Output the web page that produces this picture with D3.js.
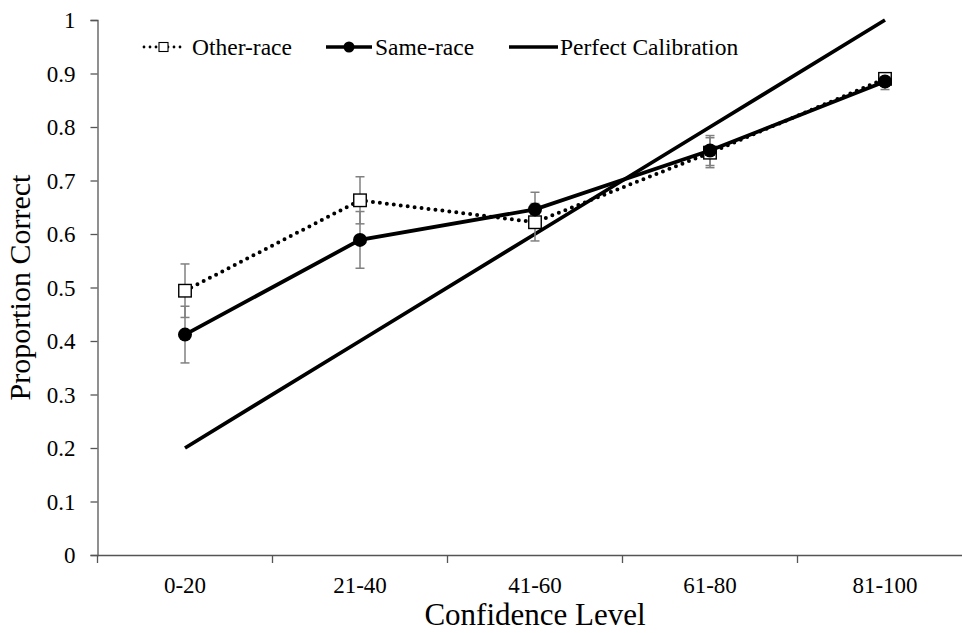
<!DOCTYPE html>
<html>
<head>
<meta charset="utf-8">
<script src="https://cdn.jsdelivr.net/npm/d3@7"></script>
<style>
  body { margin: 0; background: #fff; }
  text { font-family: "Liberation Serif", "Times New Roman", serif; fill: #000; }
</style>
</head>
<body>
<div id="chart"></div>
<script>
  const categories = ["0-20", "21-40", "41-60", "61-80", "81-100"];
  const otherRace = [0.494, 0.663, 0.622, 0.752, 0.890];
  const otherErr = [0.050, 0.044, 0.035, 0.028, 0.010];
  const sameRace = [0.412, 0.589, 0.646, 0.756, 0.885];
  const sameErr = [0.053, 0.053, 0.032, 0.028, 0.015];
  const perfect = [0.2, 0.4, 0.6, 0.8, 1.0];
  const yTicks = [0, 0.1, 0.2, 0.3, 0.4, 0.5, 0.6, 0.7, 0.8, 0.9, 1];

  const width = 962;
  const height = 633;
  const margin = {top: 20, left: 97.5, bottom: 78};
  const plotW = 875;

  const svg = d3.select("#chart")
    .append("svg")
    .attr("width", width)
    .attr("height", height);

  const x = d3.scaleBand()
    .domain(categories)
    .range([margin.left, margin.left + plotW]);

  const y = d3.scaleLinear()
    .domain([0, 1])
    .range([height - margin.bottom, margin.top]);

  const cx = c => x(c) + x.bandwidth() / 2;

  // axes
  const yAxis = svg.append("g")
    .attr("transform", `translate(${margin.left},0)`)
    .call(d3.axisLeft(y).tickValues(yTicks)
      .tickFormat(d => d === 0 ? "0" : d === 1 ? "1" : d.toFixed(1))
      .tickSize(7).tickPadding(15));

  const xAxis = svg.append("g")
    .attr("transform", `translate(0,${y(0)})`)
    .call(d3.axisBottom(x).tickSize(0).tickPadding(21));

  // category boundary ticks
  const bounds = categories.map(c => x(c)).concat([x(categories[categories.length - 1]) + x.bandwidth()]);
  xAxis.selectAll("line.bound")
    .data(bounds)
    .join("line")
    .attr("class", "bound")
    .attr("x1", d => d).attr("x2", d => d)
    .attr("y1", 0).attr("y2", 8);

  [yAxis, xAxis].forEach(ax => {
    ax.attr("font-family", null);
    ax.select(".domain").attr("stroke", "#555").attr("stroke-width", 1.3);
    ax.selectAll("line").attr("stroke", "#555").attr("stroke-width", 1.3);
    ax.selectAll("text")
      .style("font-family", "'Liberation Serif', 'Times New Roman', serif")
      .style("font-size", "23px")
      .attr("fill", "#000");
  });
  yAxis.selectAll("text").attr("dy", "0.34em");
  xAxis.selectAll("text").attr("dy", "0.75em");

  // axis titles
  svg.append("text")
    .attr("x", x(categories[2]) + x.bandwidth() / 2)
    .attr("y", 625)
    .attr("text-anchor", "middle")
    .style("font-size", "31px")
    .text("Confidence Level");

  svg.append("text")
    .attr("transform", `translate(30,${(y(0) + y(1)) / 2}) rotate(-90)`)
    .attr("text-anchor", "middle")
    .style("font-size", "30px")
    .text("Proportion Correct");

  const line = d3.line()
    .x((d, i) => cx(categories[i]))
    .y(d => y(d));

  // perfect calibration
  svg.append("path")
    .datum(perfect)
    .attr("d", line)
    .attr("fill", "none")
    .attr("stroke", "#000")
    .attr("stroke-width", 3.8);

  // other-race dotted
  svg.append("path")
    .datum(otherRace)
    .attr("d", line)
    .attr("fill", "none")
    .attr("stroke", "#000")
    .attr("stroke-width", 4)
    .attr("stroke-linecap", "round")
    .attr("stroke-dasharray", "0 7");

  // same-race solid
  svg.append("path")
    .datum(sameRace)
    .attr("d", line)
    .attr("fill", "none")
    .attr("stroke", "#000")
    .attr("stroke-width", 3.8);

  // error bars
  function errorBars(vals, errs) {
    const g = svg.append("g").attr("stroke", "#808080").attr("stroke-width", 1.5);
    const cw = 4.5;
    vals.forEach((v, i) => {
      const px = cx(categories[i]);
      g.append("line").attr("x1", px).attr("x2", px)
        .attr("y1", y(v - errs[i])).attr("y2", y(v + errs[i]));
      g.append("line").attr("x1", px - cw).attr("x2", px + cw)
        .attr("y1", y(v - errs[i])).attr("y2", y(v - errs[i]));
      g.append("line").attr("x1", px - cw).attr("x2", px + cw)
        .attr("y1", y(v + errs[i])).attr("y2", y(v + errs[i]));
    });
  }
  errorBars(otherRace, otherErr);
  errorBars(sameRace, sameErr);

  // markers
  const sq = 12.5;
  svg.selectAll("rect.other")
    .data(otherRace)
    .join("rect")
    .attr("class", "other")
    .attr("x", (d, i) => cx(categories[i]) - sq / 2)
    .attr("y", d => y(d) - sq / 2)
    .attr("width", sq).attr("height", sq)
    .attr("fill", "#fff")
    .attr("stroke", "#000")
    .attr("stroke-width", 1.4);

  svg.selectAll("circle.same")
    .data(sameRace)
    .join("circle")
    .attr("class", "same")
    .attr("cx", (d, i) => cx(categories[i]))
    .attr("cy", d => y(d))
    .attr("r", 7)
    .attr("fill", "#000");

  // legend
  const leg = svg.append("g").attr("transform", "translate(0,47)");
  leg.append("line").attr("x1", 144).attr("x2", 184).attr("y1", 0).attr("y2", 0)
    .attr("stroke", "#000").attr("stroke-width", 2.8)
    .attr("stroke-linecap", "round").attr("stroke-dasharray", "0 6");
  leg.append("rect").attr("x", 159).attr("y", -4.5).attr("width", 9).attr("height", 9)
    .attr("fill", "#fff").attr("stroke", "#000").attr("stroke-width", 1.1);
  leg.append("text").attr("x", 192).attr("y", 8).style("font-size", "23.5px").text("Other-race");

  leg.append("line").attr("x1", 326).attr("x2", 372).attr("y1", 0).attr("y2", 0)
    .attr("stroke", "#000").attr("stroke-width", 3.4);
  leg.append("circle").attr("cx", 349).attr("cy", 0).attr("r", 5.5).attr("fill", "#000");
  leg.append("text").attr("x", 375).attr("y", 8).style("font-size", "23.5px").text("Same-race");

  leg.append("line").attr("x1", 509).attr("x2", 558).attr("y1", 0).attr("y2", 0)
    .attr("stroke", "#000").attr("stroke-width", 3.4);
  leg.append("text").attr("x", 560).attr("y", 8).style("font-size", "23.5px").text("Perfect Calibration");
</script>
</body>
</html>
